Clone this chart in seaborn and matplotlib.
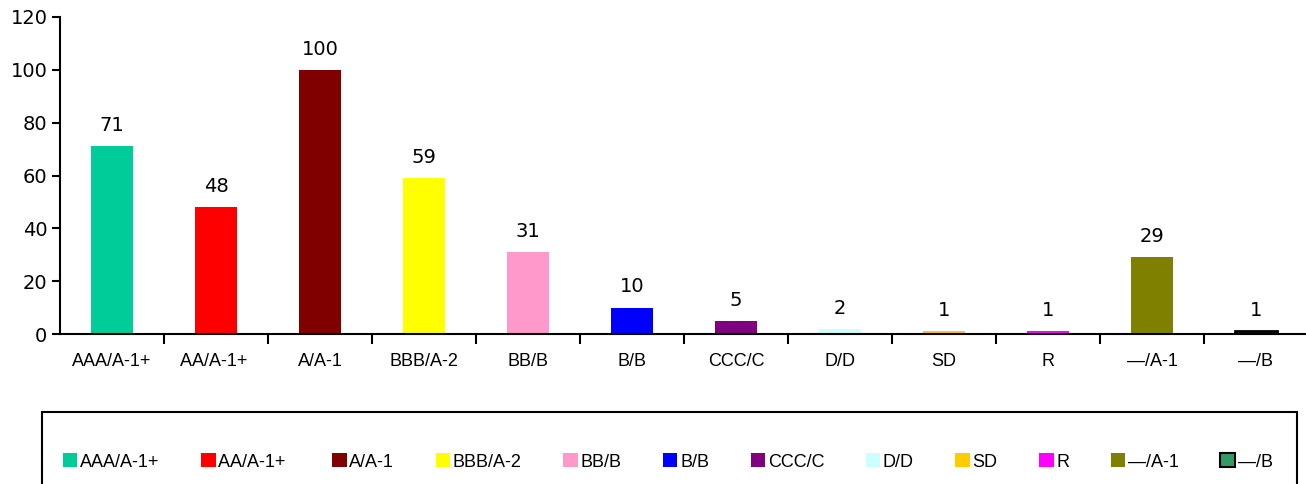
import matplotlib
matplotlib.use('Agg')
import matplotlib.pyplot as plt
import seaborn as sns
import pandas as pd
from matplotlib.patches import Patch, Rectangle

# data
ratings = ['AAA/A-1+', 'AA/A-1+ ', 'A/A-1', 'BBB/A-2', 'BB/B', 'B/B', 'CCC/C',
           'D/D', 'SD', 'R', '—/A-1', '—/B']
counts = [71, 48, 100, 59, 31, 10, 5, 2, 1, 1, 29, 1]
colors = ['#00CC99', '#FF0000', '#800000', '#FFFF00', '#FF99CC', '#0000FF',
          '#800080', '#CCFFFF', '#FFCC00', '#FF00FF', '#808000', '#339966']

df = pd.DataFrame({'Rating': ratings, 'Count': counts})

sns.set_theme(style='white')
plt.rcParams['font.family'] = ['DejaVu Sans']
plt.rcParams['text.color'] = 'black'

fig = plt.figure(figsize=(13.06, 4.84), dpi=100)
ax = fig.add_axes([60 / 1306, 150 / 484, 1248 / 1306, 317 / 484])

sns.barplot(data=df, x='Rating', y='Count', hue='Rating', palette=colors,
            order=ratings, hue_order=ratings, width=0.41, legend=False,
            saturation=1, ax=ax)

# last bar has a black outline
for c in ax.containers:
    for bar in c:
        bar.set_edgecolor('none')
last = ax.containers[-1][0]
last.set_edgecolor('black')
last.set_linewidth(2)

for c in ax.containers:
    ax.bar_label(c, fmt='%d', padding=8, fontsize=14, color='black')

ax.set_ylim(0, 120)
ax.set_yticks(range(0, 121, 20))
ax.set_xlim(-0.5, 11.5)
ax.set_xlabel('')
ax.set_ylabel('')

for s in ['top', 'right']:
    ax.spines[s].set_visible(False)
for s in ['left', 'bottom']:
    ax.spines[s].set_visible(True)
    ax.spines[s].set_color('black')
    ax.spines[s].set_linewidth(1.5)

ax.tick_params(axis='y', left=True, length=6, width=1.5, labelsize=14,
               colors='black', pad=3)
ax.set_xticks(range(len(ratings)))
ax.set_xticklabels(ratings, family=['Liberation Sans', 'DejaVu Sans'], fontsize=13)
ax.tick_params(axis='x', which='major', bottom=False, length=0, pad=14,
               labelcolor='black')
ax.set_xticks([i + 0.5 for i in range(len(ratings) - 1)], minor=True)
ax.tick_params(axis='x', which='minor', bottom=True, length=7, width=1.5,
               color='black')
ax.grid(False)

# legend box along the bottom
box = Rectangle((42 / 1306, -0.05), 1255 / 1306, 0.05 + (484 - 412) / 484,
                transform=fig.transFigure, facecolor='none', edgecolor='black',
                linewidth=1.5, clip_on=False)
fig.patches.append(box)

handles = []
for r, col in zip(ratings, colors):
    ec = 'black' if r == '—/B' else col
    handles.append(Patch(facecolor=col, edgecolor=ec,
                         linewidth=1.5 if r == '—/B' else 0, label=r))
leg = fig.legend(handles=handles, ncol=len(ratings), loc='center left',
                 bbox_to_anchor=(63 / 1306, 1 - 462 / 484), frameon=False,
                 handlelength=0.8, handleheight=0.8, handletextpad=0.15,
                 columnspacing=2.3, borderpad=0, borderaxespad=0,
                 labelcolor='black',
                 prop={'family': ['Liberation Sans', 'DejaVu Sans'], 'size': 13})

fig.savefig('out.png', dpi=100)
